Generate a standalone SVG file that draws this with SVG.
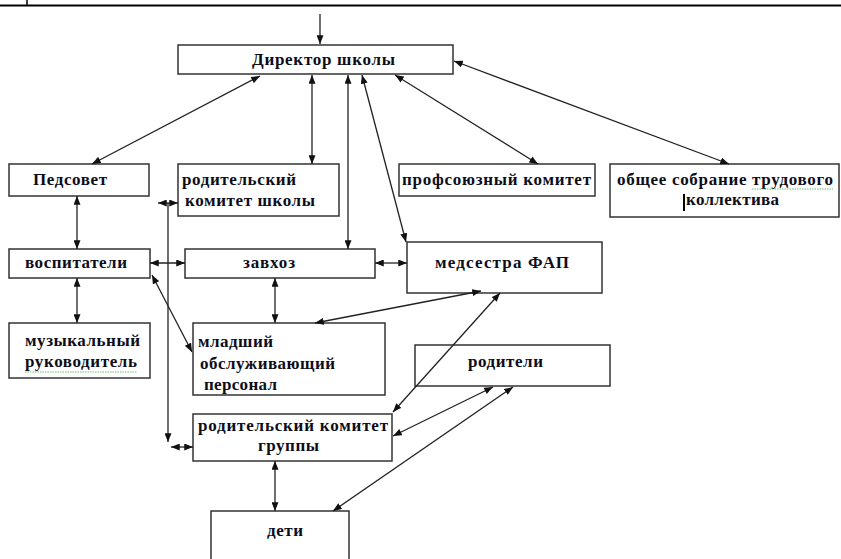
<svg xmlns="http://www.w3.org/2000/svg" width="841" height="559" viewBox="0 0 841 559">
<style>
.box{fill:#fff;stroke:#333;stroke-width:1.5}
.t{font-family:"Liberation Serif","Times New Roman",serif;font-weight:bold;font-size:17px;fill:#0d0d1a}
.c{stroke:#222;stroke-width:1.3;fill:none;marker-start:url(#ah);marker-end:url(#ah)}
.e{stroke:#222;stroke-width:1.3;fill:none;marker-end:url(#ah)}
.sq{stroke:#5cb85c;stroke-width:0.9;fill:none;stroke-dasharray:1.5 1}
</style>
<defs>
<marker id="ah" viewBox="0 0 10 8" refX="10" refY="4" markerWidth="9" markerHeight="7" markerUnits="userSpaceOnUse" orient="auto-start-reverse">
<path d="M0,0 L10,4 L0,8 z" fill="#111"/>
</marker>
</defs>
<rect width="841" height="559" fill="#fff"/>
<g id="frame">
<line x1="0" y1="5.5" x2="841" y2="5.5" stroke="#000" stroke-width="2"/>
<line x1="27" y1="0" x2="27" y2="5" stroke="#000" stroke-width="1.5"/>
</g>
<g id="director">
<rect class="box" x="178" y="45" width="275" height="29"/>
<text class="t" x="252" y="65" textLength="143" lengthAdjust="spacing">Директор школы</text>
</g>
<g id="pedsovet">
<rect class="box" x="9" y="164" width="140" height="32"/>
<text class="t" x="33" y="185" textLength="74" lengthAdjust="spacing">Педсовет</text>
</g>
<g id="rod-komitet-shkoly">
<rect class="box" x="178" y="164" width="161" height="52"/>
<text class="t" x="182" y="185" textLength="114" lengthAdjust="spacing">родительский</text>
<text class="t" x="185" y="206" textLength="130" lengthAdjust="spacing">комитет школы</text>
</g>
<g id="profkom">
<rect class="box" x="399" y="164" width="196" height="32"/>
<text class="t" x="402" y="185" textLength="189" lengthAdjust="spacing">профсоюзный  комитет</text>
</g>
<g id="obshchee-sobranie">
<rect class="box" x="610" y="164" width="229" height="53"/>
<text class="t" x="617" y="185" textLength="216" lengthAdjust="spacing">общее  собрание  трудового</text>
<text class="t" x="686" y="205" textLength="93" lengthAdjust="spacing">коллектива</text>
<path class="sq" d="M752,189 L833,189"/>
<rect x="683" y="194" width="2" height="17" fill="#000"/>
</g>
<g id="vospitateli">
<rect class="box" x="9" y="249" width="141" height="29"/>
<text class="t" x="25" y="268" textLength="102" lengthAdjust="spacing">воспитатели</text>
</g>
<g id="zavhoz">
<rect class="box" x="185" y="249" width="190" height="29"/>
<text class="t" x="243" y="268" textLength="52" lengthAdjust="spacing">завхоз</text>
</g>
<g id="medsestra">
<rect class="box" x="407" y="242" width="195" height="51"/>
<text class="t" x="435" y="268" textLength="134" lengthAdjust="spacing">медсестра  ФАП</text>
</g>
<g id="muzykalny">
<rect class="box" x="9" y="323" width="141" height="55"/>
<text class="t" x="25" y="346" textLength="115" lengthAdjust="spacing">музыкальный</text>
<text class="t" x="25" y="367" textLength="112" lengthAdjust="spacing">руководитель</text>
<path class="sq" d="M25,372 L137,372"/>
</g>
<g id="mladshiy">
<rect class="box" x="193" y="323" width="192" height="72"/>
<text class="t" x="198" y="347" textLength="75" lengthAdjust="spacing">младший</text>
<text class="t" x="200" y="369" textLength="135" lengthAdjust="spacing">обслуживающий</text>
<text class="t" x="204" y="390" textLength="73" lengthAdjust="spacing">персонал</text>
</g>
<g id="roditeli">
<rect class="box" x="415" y="345" width="195" height="41"/>
<text class="t" x="468" y="367" textLength="75" lengthAdjust="spacing">родители</text>
</g>
<g id="rod-komitet-gruppy">
<rect class="box" x="193" y="414" width="199" height="47"/>
<text class="t" x="198" y="431" textLength="190" lengthAdjust="spacing">родительский  комитет</text>
<text class="t" x="258" y="451" textLength="61" lengthAdjust="spacing">группы</text>
</g>
<g id="deti">
<rect class="box" x="211" y="511" width="138" height="60"/>
<text class="t" x="267" y="536" textLength="36" lengthAdjust="spacing">дети</text>
</g>
<g id="connectors">
<line class="e" x1="320" y1="14" x2="320" y2="44"/>
<line class="c" x1="260" y1="76" x2="92" y2="164"/>
<line class="c" x1="312" y1="75" x2="312" y2="164"/>
<line class="c" x1="348" y1="75" x2="348" y2="249"/>
<line class="c" x1="362" y1="75" x2="406" y2="242"/>
<line class="c" x1="395" y1="75" x2="538" y2="164"/>
<line class="c" x1="454" y1="61" x2="729" y2="164"/>
<line class="c" x1="77" y1="196" x2="77" y2="249"/>
<line class="c" x1="150" y1="263" x2="185" y2="263"/>
<line class="c" x1="375" y1="263" x2="407" y2="263"/>
<line class="c" x1="77" y1="278" x2="77" y2="323"/>
<line class="c" x1="152" y1="275" x2="192" y2="352"/>
<line class="c" x1="275" y1="278" x2="275" y2="323"/>
<line class="c" x1="481" y1="291" x2="315" y2="323"/>
<line class="c" x1="500" y1="293" x2="393" y2="412"/>
<line class="c" x1="393" y1="436" x2="493" y2="387"/>
<line class="c" x1="333" y1="511" x2="513" y2="387"/>
<line class="c" x1="275" y1="461" x2="275" y2="511"/>
<line class="c" x1="158" y1="203" x2="178" y2="203"/>
<line class="e" x1="168" y1="203" x2="168" y2="442"/>
<line class="c" x1="171" y1="447" x2="193" y2="447"/>
</g>
</svg>
